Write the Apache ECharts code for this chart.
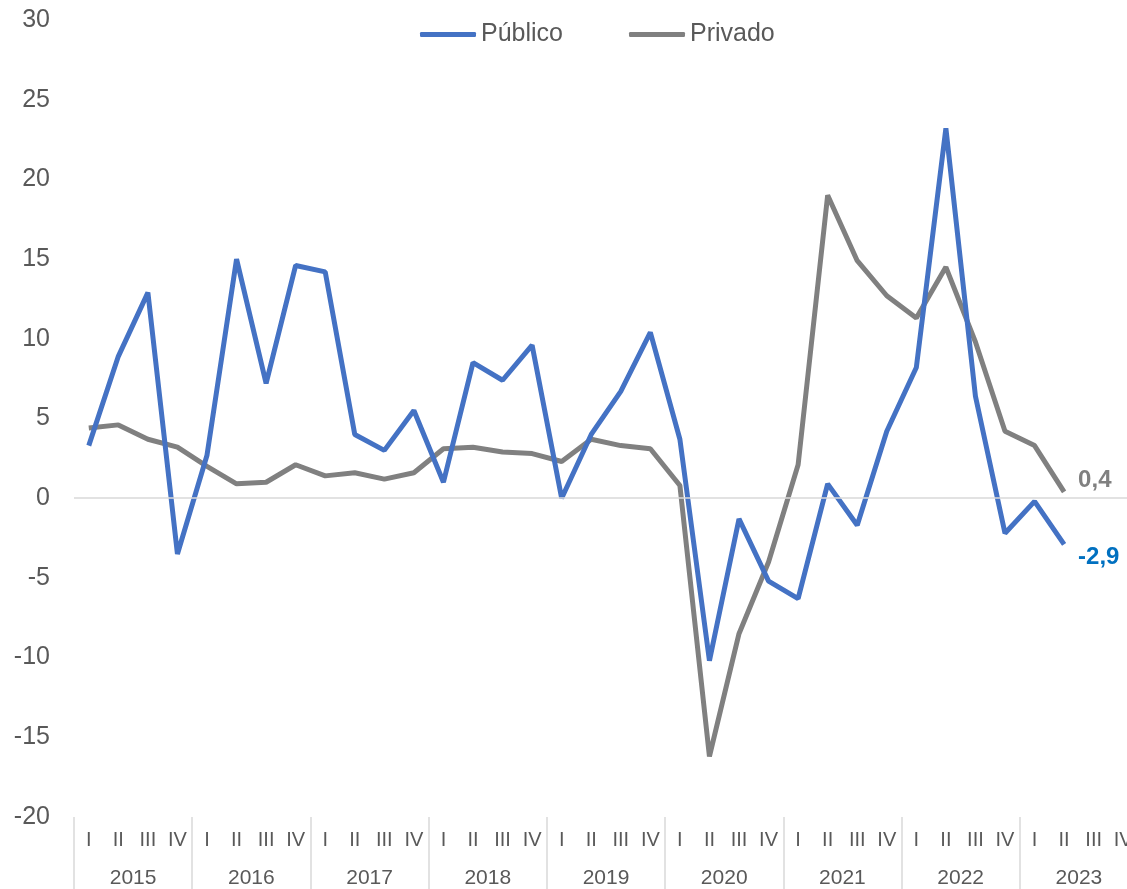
<!DOCTYPE html>
<html>
<head>
<meta charset="utf-8">
<script src="https://cdn.jsdelivr.net/npm/echarts@6/dist/echarts.min.js"></script>
<style>
  html, body { margin: 0; padding: 0; background: #fff; overflow: hidden; }
  /* plot runs past the right edge of the window, as in the original */
  #chart { width: 1138px; height: 889px; }
</style>
</head>
<body>
<div id="chart"></div>
<script>
// quarters 2015 I .. 2023 IV, data until 2023 II
const years = ['2015', '2016', '2017', '2018', '2019', '2020', '2021', '2022', '2023'];
const quarterNames = ['I', 'II', 'III', 'IV'];
const quarters = [];
years.forEach(function (y) {
  quarterNames.forEach(function (q) { quarters.push(q); });
});

const publico = [
  3.3, 8.9, 12.9, -3.5, 2.7, 15.0, 7.2, 14.6,
  14.2, 4.0, 3.0, 5.5, 1.0, 8.5, 7.4, 9.6,
  0.0, 4.0, 6.7, 10.4, 3.7, -10.2, -1.3, -5.2,
  -6.3, 0.9, -1.7, 4.2, 8.2, 23.2, 6.4, -2.2,
  -0.2, -2.9
];
const privado = [
  4.4, 4.6, 3.7, 3.2, 2.0, 0.9, 1.0, 2.1,
  1.4, 1.6, 1.2, 1.6, 3.1, 3.2, 2.9, 2.8,
  2.3, 3.7, 3.3, 3.1, 0.8, -16.2, -8.5, -4.0,
  2.1, 19.0, 14.9, 12.7, 11.3, 14.5, 9.8, 4.2,
  3.3, 0.4
];

const fmt = function (v) { return v.toFixed(1).replace('.', ','); };

const chart = echarts.init(document.getElementById('chart'));

const option = {
  animation: false,
  textStyle: { fontFamily: 'Liberation Sans, Arial, sans-serif' },
  legend: {
    left: 415,
    top: 17,
    icon: 'roundRect',
    itemWidth: 56,
    itemHeight: 5,
    itemGap: 66,
    textStyle: { fontSize: 25, color: '#595959' },
    data: ['Público', 'Privado']
  },
  grid: {
    left: 74,
    right: 0,
    top: 20,
    bottom: 72
  },
  xAxis: [
    {
      type: 'category',
      data: quarters,
      position: 'bottom',
      boundaryGap: true,
      axisLine: { show: false, onZero: false },
      axisTick: { show: false },
      axisLabel: { interval: 0, fontSize: 20, color: '#595959', margin: 13 }
    },
    {
      type: 'category',
      data: years,
      position: 'bottom',
      offset: 0,
      boundaryGap: true,
      axisLine: { show: false, onZero: false },
      axisTick: {
        show: true,
        interval: 0,
        length: 72,
        lineStyle: { color: '#d9d9d9', width: 1.5 }
      },
      axisLabel: { interval: 0, fontSize: 21, color: '#595959', margin: 51 }
    }
  ],
  yAxis: {
    type: 'value',
    min: -20,
    max: 30,
    interval: 5,
    axisLine: { show: false },
    axisTick: { show: false },
    splitLine: { show: false },
    axisLabel: { fontSize: 25, color: '#595959', margin: 24 }
  },
  series: [
    {
      name: 'Público',
      type: 'line',
      data: publico,
      symbol: 'none',
      lineStyle: { color: '#4472C4', width: 5 },
      itemStyle: { color: '#4472C4' },
      endLabel: {
        show: true,
        formatter: function (p) { return fmt(p.value); },
        color: '#0070C0',
        fontWeight: 'bold',
        fontSize: 24,
        offset: [6, 13]
      },
      markLine: {
        silent: true,
        symbol: 'none',
        label: { show: false },
        lineStyle: { color: '#d9d9d9', width: 1.5, type: 'solid' },
        data: [{ yAxis: 0 }]
      },
      z: 3
    },
    {
      name: 'Privado',
      type: 'line',
      data: privado,
      symbol: 'none',
      lineStyle: { color: '#808080', width: 5 },
      itemStyle: { color: '#808080' },
      endLabel: {
        show: true,
        formatter: function (p) { return fmt(p.value); },
        color: '#808080',
        fontWeight: 'bold',
        fontSize: 24,
        offset: [6, -11]
      },
      z: 2
    }
  ]
};

chart.setOption(option);
</script>
</body>
</html>
